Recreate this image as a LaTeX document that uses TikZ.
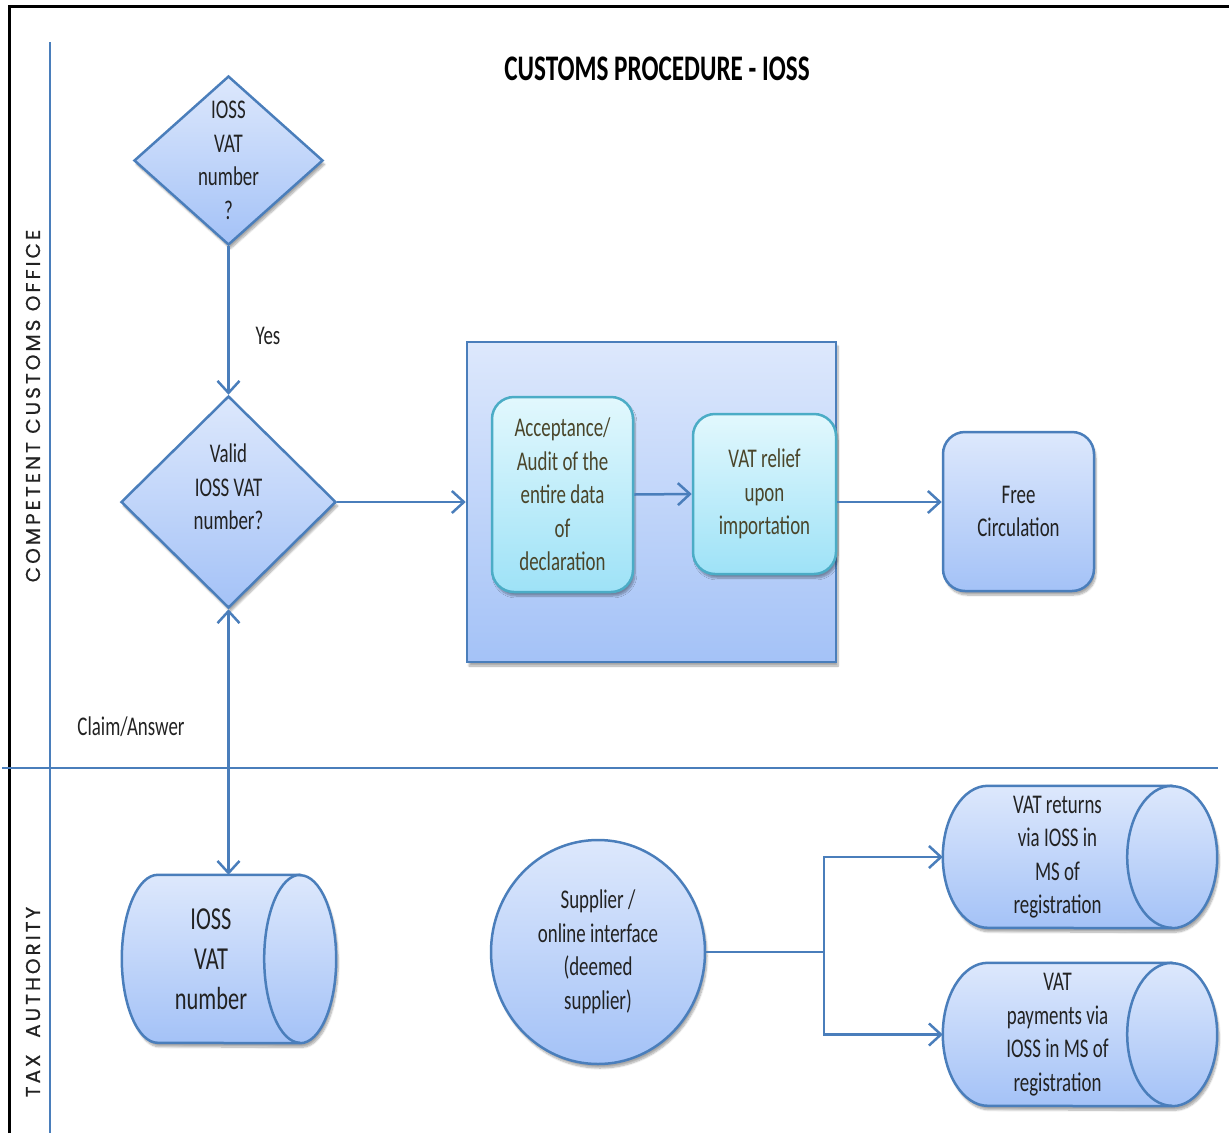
\documentclass[tikz,border=0pt]{standalone}
\usepackage{fontspec}
\setmainfont[FakeStretch=0.7]{Carlito}
\newfontfamily\lanefont[LetterSpace=15,FakeBold=0.5]{Poppins}
\usetikzlibrary{arrows.meta,shapes.geometric,shadows.blur}
\definecolor{lblue}{HTML}{4A7EBB}
\definecolor{ftop}{HTML}{DDE8FC}
\definecolor{fbot}{HTML}{A4C2F7}
\definecolor{ctop}{HTML}{E2F8FD}
\definecolor{cbot}{HTML}{9EE2F7}
\definecolor{cbord}{HTML}{4BACC6}
\definecolor{ctext}{HTML}{4A452A}
\definecolor{tdark}{HTML}{222222}
\pgfdeclarelayer{bg}
\pgfsetlayers{bg,main}
\newcommand\cylbody[3]{%
  \path[bluefill,sh] (#1.north east) -- ([xshift=#2]#1.north west)
    arc[start angle=90,end angle=270,x radius=#2,y radius=#3]
    -- (#1.south east)
    arc[start angle=-90,end angle=90,x radius=#2,y radius=#3] -- cycle;
  \draw[draw=lblue,line width=2.5pt] (#1.north east)
    arc[start angle=90,end angle=270,x radius=#2,y radius=#3];}
\begin{document}
\begin{tikzpicture}[x=1pt,y=-1pt,
  every node/.style={font=\fontsize{27}{33.5}\selectfont, text=tdark},
  conn/.style={draw=lblue, line width=2.5pt},
  arr/.style={conn, -{Straight Barb[length=12pt,width=22pt]}},
  arrb/.style={conn, {Straight Barb[length=12pt,width=22pt]}-{Straight Barb[length=12pt,width=22pt]}},
  sh/.style={blur shadow={shadow xshift=2pt,shadow yshift=-4pt,shadow blur steps=8,shadow opacity=35}},
  bluefill/.style={top color=ftop,bottom color=fbot,draw=lblue,line width=2.5pt},
  decision/.style={diamond,bluefill,sh,inner sep=0pt},
  roundbox/.style={rectangle,rounded corners=22pt,bluefill,sh,inner sep=0pt,align=center},
  cyanbox/.style={rectangle,rounded corners=22pt,top color=ctop,bottom color=cbot,draw=cbord,line width=2.5pt,sh,inner sep=0pt,align=center,text=ctext},
  cyl/.style={rectangle,inner sep=0pt,align=center},
  lane/.style={rotate=90,font=\lanefont\fontsize{20}{20}\selectfont,text=tdark}
]
\useasboundingbox (0,0) rectangle (1229,1133);

% frame and lanes
\draw[black,line width=3pt] (9,1133) -- (9,6) -- (1229,6);
\draw[lblue,line width=2pt] (50,42) -- (50,1133);
\draw[lblue,line width=2pt] (2,768) -- (1218,768);

\node[lane] (lane1) at (33,406) {COMPETENT CUSTOMS OFFICE};
\node[lane] (lane2) at (33,1002) {TAX\ \ AUTHORITY};

\node[font=\bfseries\fontsize{36}{36}\selectfont,text=black] (title) at (657,69) {CUSTOMS PROCEDURE - IOSS};

% decisions
\node[decision,minimum width=189pt,minimum height=169pt,
  label={[align=center]center:IOSS\\VAT\\number\\?}] (d1) at (228.5,160.5) {};
\node[decision,minimum width=215pt,minimum height=212pt,
  label={[align=center,yshift=15pt]center:Valid\\IOSS VAT\\number?}] (d2) at (228.5,502) {};

% process group
\node[rectangle,top color=ftop,bottom color=fbot,draw=lblue,line width=2.5pt,sh,
  minimum width=369pt,minimum height=320pt] (big) at (651.5,502) {};
\node[cyanbox,minimum width=141pt,minimum height=195pt] (acc) at (562.5,494.5)
  {Acceptance/\\Audit of the\\entire data\\of\\declaration};
\node[cyanbox,minimum width=143pt,minimum height=160pt] (rel) at (764.5,494)
  {VAT relief\\upon\\importation};
\node[roundbox,minimum width=151pt,minimum height=159pt] (free) at (1018.5,511.5)
  {Free\\Circulation};

% tax authority
\node[cyl,minimum width=178pt,minimum height=168pt,font=\fontsize{32}{40}\selectfont] (c1) at (211,959)
  {IOSS\\VAT\\number};
\node[ellipse,bluefill,sh,inner sep=0pt,minimum width=214pt,minimum height=224pt,align=center] (sup) at (598,952)
  {Supplier /\\online interface\\(deemed\\supplier)};
\node[cyl,minimum width=229pt,minimum height=142pt] (c2) at (1057.5,857)
  {VAT returns\\via IOSS in\\MS of\\registration};
\node[cyl,minimum width=229pt,minimum height=143pt] (c3) at (1057.5,1034.5)
  {VAT\\payments via\\IOSS in MS of\\registration};
\begin{pgfonlayer}{bg}
  \cylbody{c1}{36pt}{84pt}
  \cylbody{c2}{45pt}{71pt}
  \cylbody{c3}{45pt}{71.5pt}
\end{pgfonlayer}

% labels
\node (yes) at (268,336) {Yes};
\node (claim) at (131,727) {Claim/Answer};

% connectors
\coordinate (split) at (824,952);
\draw[arr] (d1.south) -- (d2.north);
\draw[arr] (d2.east) -- (big.west);
\draw[arr] (acc.east) -- (rel.west);
\draw[arr] (big.east) -- (big.east -| free.west);
\draw[arrb] (d2.south) -- (d2.south |- c1.north);
\draw[conn] (sup.east) -- (split);
\draw[arr] (split) |- (c2.west);
\draw[arr] (split) |- (c3.west);
\end{tikzpicture}
\end{document}
